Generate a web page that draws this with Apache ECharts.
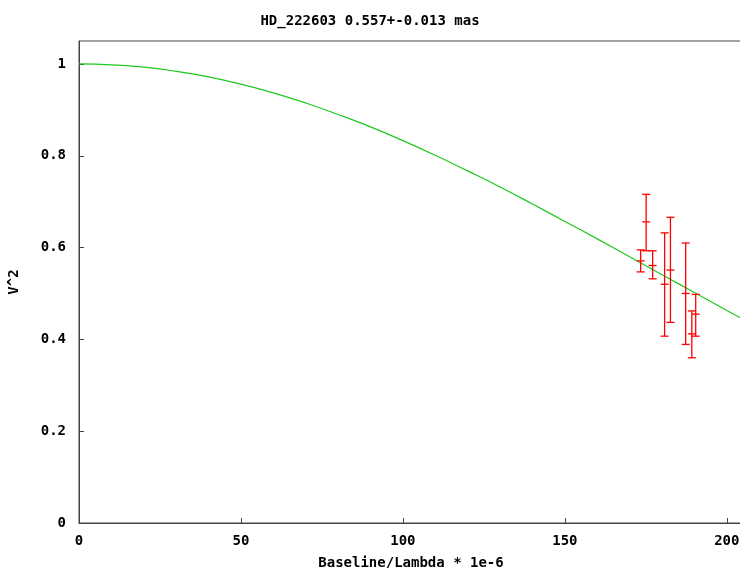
<!DOCTYPE html>
<html>
<head>
<meta charset="utf-8">
<script src="https://cdn.jsdelivr.net/npm/echarts@6/dist/echarts.min.js"></script>
<style>
  html, body { margin: 0; padding: 0; background: #fff; }
  #chart { width: 740px; height: 568px; }
</style>
</head>
<body>
<div id="chart"></div>
<script>
// model curve
const curveX = [0, 10, 20, 30, 40, 50, 60, 70, 80, 90, 100, 110, 120, 130, 140, 150, 160, 170, 180, 190, 200, 205];
const curveY = [1, 0.998, 0.993, 0.984, 0.972, 0.956, 0.937, 0.915, 0.890, 0.863, 0.833, 0.801, 0.767, 0.732, 0.695, 0.657, 0.619, 0.580, 0.541, 0.502, 0.463, 0.444];

// measured points with errors
const obsX = [173.4, 175.1, 177.1, 180.8, 182.6, 187.3, 189.2, 190.4];
const obsY = [0.571, 0.656, 0.561, 0.520, 0.551, 0.500, 0.412, 0.455];
const obsLow = [0.547, 0.593, 0.532, 0.407, 0.437, 0.389, 0.360, 0.407];
const obsHigh = [0.595, 0.716, 0.593, 0.632, 0.666, 0.610, 0.462, 0.498];

const fontFam = '"DejaVu Sans Mono", monospace';
const axisColor = '#444';

let chart = echarts.init(document.getElementById('chart'));

let curveData = curveX.map((x, i) => [x, curveY[i]]);
let errData = obsX.map((x, i) => [x, obsY[i], obsLow[i], obsHigh[i]]);

function renderErrorBar(params, api) {
    let x = api.value(0);
    let mid = api.coord([x, api.value(1)]);
    let lo = api.coord([x, api.value(2)]);
    let hi = api.coord([x, api.value(3)]);
    let hw = 4;
    let style = { stroke: '#ff0000', lineWidth: 1.3 };
    return {
        type: 'group',
        children: [
            { type: 'line', shape: { x1: lo[0], y1: lo[1], x2: hi[0], y2: hi[1] }, style },
            { type: 'line', shape: { x1: lo[0] - hw, y1: lo[1], x2: lo[0] + hw, y2: lo[1] }, style },
            { type: 'line', shape: { x1: hi[0] - hw, y1: hi[1], x2: hi[0] + hw, y2: hi[1] }, style },
            { type: 'line', shape: { x1: mid[0] - hw, y1: mid[1], x2: mid[0] + hw, y2: mid[1] }, style }
        ]
    };
}

chart.setOption({
    animation: false,
    backgroundColor: '#fff',
    title: {
        text: 'HD_222603 0.557+-0.013 mas',
        left: 'center',
        top: 9,
        textStyle: { fontFamily: fontFam, fontSize: 14, fontWeight: 'bold', color: '#000' }
    },
    grid: {
        left: 79, top: 41, right: -3, bottom: 45,
        outerBoundsMode: 'none',
        show: true, borderColor: axisColor, borderWidth: 1
    },
    xAxis: {
        type: 'value',
        min: 0, max: 205, interval: 50,
        name: 'Baseline/Lambda * 1e-6',
        nameLocation: 'middle',
        nameGap: 33,
        nameTextStyle: { fontFamily: fontFam, fontSize: 14, fontWeight: 'bold', color: '#000' },
        axisLine: { show: true, lineStyle: { color: axisColor } },
        axisTick: { show: true, inside: true, length: 5, lineStyle: { color: axisColor } },
        axisLabel: { fontFamily: fontFam, fontSize: 14, fontWeight: 'bold', color: '#000', margin: 11, showMaxLabel: false },
        splitLine: { show: false }
    },
    yAxis: {
        type: 'value',
        min: 0, max: 1.05, interval: 0.2,
        name: 'V^2',
        nameLocation: 'middle',
        nameGap: 58,
        nameTextStyle: { fontFamily: fontFam, fontSize: 14, fontWeight: 'bold', color: '#000' },
        axisLine: { show: true, lineStyle: { color: axisColor } },
        axisTick: { show: true, inside: true, length: 5, lineStyle: { color: axisColor } },
        axisLabel: {
            fontFamily: fontFam, fontSize: 14, fontWeight: 'bold', color: '#000', margin: 13,
            showMaxLabel: false,
            formatter: v => (Math.round(v * 10) / 10).toString()
        },
        splitLine: { show: false }
    },
    series: [
        {
            type: 'line',
            data: curveData,
            smooth: true,
            showSymbol: false,
            lineStyle: { color: '#1ec81e', width: 1.2 },
            z: 2
        },
        {
            type: 'custom',
            data: errData,
            renderItem: renderErrorBar,
            encode: { x: 0, y: [1, 2, 3] },
            z: 3
        }
    ]
});
</script>
</body>
</html>
